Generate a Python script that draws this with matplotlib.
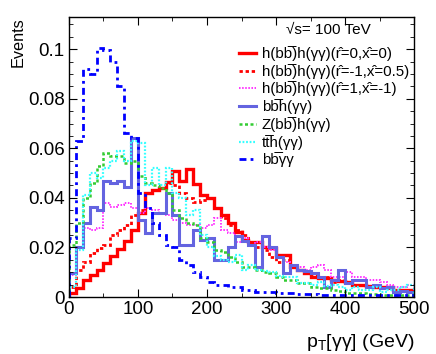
import numpy as np
import matplotlib
matplotlib.use("Agg")
import matplotlib.pyplot as plt
from matplotlib.lines import Line2D
from matplotlib.ticker import MultipleLocator

plt.rcParams["font.family"] = ["Liberation Sans", "DejaVu Sans"]
plt.rcParams["mathtext.fontset"] = "custom"
plt.rcParams["mathtext.rm"] = "Liberation Sans"
plt.rcParams["mathtext.it"] = "Liberation Sans:italic"

# p_T[yy] binning, 10 GeV bins from 0 to 500
bin_edges = np.arange(0, 510, 10)

hh_r0_x0 = [
    0.0016, 0.0036, 0.0069, 0.0090, 0.0110, 0.0137, 0.0166, 0.0194, 0.0227, 0.0270,
    0.0340, 0.0420, 0.0430, 0.0440, 0.0465, 0.0510, 0.0470, 0.0515, 0.0455, 0.0410,
    0.0400, 0.0360, 0.0330, 0.0300, 0.0262, 0.0230, 0.0220, 0.0220, 0.0200, 0.0198,
    0.0170, 0.0170, 0.0122, 0.0110, 0.0097, 0.0082, 0.0077, 0.0075, 0.0069, 0.0065,
    0.0062, 0.0050, 0.0048, 0.0045, 0.0042, 0.0042, 0.0040, 0.0030, 0.0028, 0.0028,
]
hh_rm1_x05 = [
    0.0040, 0.0110, 0.0143, 0.0177, 0.0198, 0.0210, 0.0250, 0.0270, 0.0290, 0.0330,
    0.0350, 0.0420, 0.0430, 0.0440, 0.0460, 0.0450, 0.0420, 0.0400, 0.0385, 0.0390,
    0.0400, 0.0360, 0.0320, 0.0290, 0.0270, 0.0250, 0.0210, 0.0200, 0.0190, 0.0160,
    0.0140, 0.0150, 0.0130, 0.0110, 0.0100, 0.0090, 0.0080, 0.0080, 0.0060, 0.0070,
    0.0060, 0.0050, 0.0050, 0.0040, 0.0045, 0.0040, 0.0035, 0.0030, 0.0030, 0.0025,
]
hh_r1_xm1 = [
    0.0090, 0.0200, 0.0280, 0.0270, 0.0280, 0.0380, 0.0365, 0.0370, 0.0380, 0.0360,
    0.0340, 0.0360, 0.0350, 0.0340, 0.0330, 0.0310, 0.0300, 0.0290, 0.0290, 0.0280,
    0.0290, 0.0320, 0.0270, 0.0260, 0.0220, 0.0240, 0.0210, 0.0220, 0.0200, 0.0190,
    0.0160, 0.0140, 0.0130, 0.0120, 0.0110, 0.0120, 0.0130, 0.0110, 0.0080, 0.0080,
    0.0100, 0.0080, 0.0080, 0.0070, 0.0070, 0.0060, 0.0050, 0.0040, 0.0040, 0.0050,
]
bbh = [
    0.0095, 0.0200, 0.0300, 0.0365, 0.0350, 0.0470, 0.0460, 0.0470, 0.0445, 0.0640,
    0.0310, 0.0260, 0.0340, 0.0340, 0.0420, 0.0330, 0.0210, 0.0210, 0.0270, 0.0230,
    0.0240, 0.0150, 0.0150, 0.0200, 0.0245, 0.0225, 0.0210, 0.0120, 0.0245, 0.0200,
    0.0160, 0.0097, 0.0130, 0.0110, 0.0105, 0.0097, 0.0082, 0.0042, 0.0069, 0.0110,
    0.0056, 0.0069, 0.0069, 0.0042, 0.0048, 0.0036, 0.0042, 0.0022, 0.0025, 0.0022,
]
zh = [
    0.0210, 0.0300, 0.0400, 0.0460, 0.0530, 0.0580, 0.0570, 0.0570, 0.0540, 0.0550,
    0.0490, 0.0460, 0.0450, 0.0440, 0.0420, 0.0350, 0.0320, 0.0300, 0.0290, 0.0240,
    0.0220, 0.0190, 0.0180, 0.0160, 0.0140, 0.0120, 0.0120, 0.0110, 0.0100, 0.0097,
    0.0082, 0.0070, 0.0069, 0.0056, 0.0056, 0.0040, 0.0036, 0.0036, 0.0030, 0.0025,
    0.0016, 0.0015, 0.0015, 0.0012, 0.0012, 0.0010, 0.0010, 0.0010, 0.0010, 0.0010,
]
tth = [
    0.0040, 0.0190, 0.0410, 0.0500, 0.0480, 0.0520, 0.0550, 0.0590, 0.0550, 0.0630,
    0.0620, 0.0450, 0.0520, 0.0450, 0.0520, 0.0420, 0.0400, 0.0330, 0.0350, 0.0250,
    0.0200, 0.0165, 0.0150, 0.0140, 0.0170, 0.0110, 0.0130, 0.0110, 0.0105, 0.0100,
    0.0085, 0.0082, 0.0082, 0.0056, 0.0056, 0.0050, 0.0060, 0.0045, 0.0050, 0.0040,
    0.0030, 0.0040, 0.0030, 0.0030, 0.0040, 0.0020, 0.0030, 0.0030, 0.0040, 0.0050,
]
bbyy = [
    0.0240, 0.0630, 0.0920, 0.0900, 0.1005, 0.0995, 0.0950, 0.0850, 0.0660, 0.0640,
    0.0420, 0.0360, 0.0300, 0.0250, 0.0210, 0.0200, 0.0150, 0.0130, 0.0100, 0.0080,
    0.0060, 0.0050, 0.0050, 0.0040, 0.0040, 0.0030, 0.0030, 0.0020, 0.0020, 0.0020,
    0.0015, 0.0015, 0.0015, 0.0012, 0.0012, 0.0012, 0.0010, 0.0010, 0.0010, 0.0010,
    0.0010, 0.0010, 0.0010, 0.0010, 0.0010, 0.0008, 0.0008, 0.0008, 0.0008, 0.0008,
]

bb = "bb\u0305"
labels = [
    "h(" + bb + ")h(γγ)(r\u0302=0,x\u0302=0)",
    "h(" + bb + ")h(γγ)(r\u0302=-1,x\u0302=0.5)",
    "h(" + bb + ")h(γγ)(r\u0302=1,x\u0302=-1)",
    bb + "h(γγ)",
    "Z(" + bb + ")h(γγ)",
    "tt\u0305h(γγ)",
    bb + "γγ",
]
series = [hh_r0_x0, hh_rm1_x05, hh_r1_xm1, bbh, zh, tth, bbyy]
styles = [
    dict(color="#ff0000", lw=2.4, ls="-"),
    dict(color="#ff0000", lw=2.0, ls=(0, (1.2, 1.0))),
    dict(color="#ff33ff", lw=1.4, ls=(0, (0.8, 0.8))),
    dict(color="#6464e0", lw=2.2, ls="-"),
    dict(color="#33cc33", lw=1.8, ls=(0, (1.2, 1.0))),
    dict(color="#33ffff", lw=1.6, ls=(0, (0.8, 0.8))),
    dict(color="#0000ff", lw=2.0, ls=(0, (2.5, 1.5, 1.0, 1.5))),
]

W, H = 436, 354
fig = plt.figure(figsize=(W / 100, H / 100), dpi=100)
ax = fig.add_axes([0.158, 0.161, 0.792, 0.791])

for vals, st in zip(series, styles):
    ax.stairs(vals, bin_edges, **st)

ax.set_xlim(0, 500)
ax.set_ylim(0, 0.113)
ax.xaxis.set_major_locator(MultipleLocator(100))
ax.xaxis.set_minor_locator(MultipleLocator(50))
ax.yaxis.set_minor_locator(MultipleLocator(0.005))
ax.set_yticks([0, 0.02, 0.04, 0.06, 0.08, 0.1])
ax.set_yticklabels(["0", "0.02", "0.04", "0.06", "0.08", "0.1"])
ax.tick_params(which="both", direction="in", top=True, right=True, labelsize=13.5, pad=3)
ax.tick_params(which="major", length=6)
ax.tick_params(which="minor", length=3)
for sp in ax.spines.values():
    sp.set_linewidth(1.0)

ax.set_xlabel(r"p$_{\rm T}$[γγ] (GeV)", loc="right", fontsize=14, labelpad=10)
ax.set_ylabel("Events", loc="top", fontsize=11.7, labelpad=2)

# legend drawn by hand so the rows keep the tight ROOT spacing
fig.text(328 / W, 1 - 30 / H, "√s= 100 TeV", fontsize=11, ha="center", va="center")
for i, (lab, st) in enumerate(zip(labels, styles)):
    yc = 1 - (53 + 17.7 * i) / H
    fig.add_artist(Line2D([239 / W, 256 / W], [yc, yc], transform=fig.transFigure, **st))
    fig.text(262 / W, yc - 5 / H, lab, fontsize=10.8, ha="left", va="baseline")

fig.savefig("out.png", dpi=100)
